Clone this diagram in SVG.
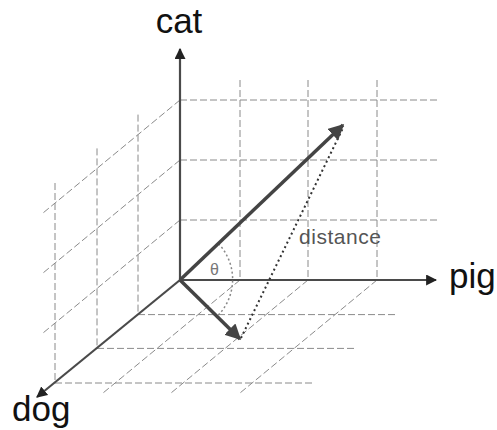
<svg xmlns="http://www.w3.org/2000/svg" width="497" height="430" viewBox="0 0 497 430">
<style>
.grid{stroke:#8a8a8a;stroke-width:1;stroke-dasharray:7,3;fill:none}
.axis{stroke:#4a4a4a;stroke-width:2.2;fill:none}
.vec{stroke:#444;stroke-width:3.5;fill:none}
.lbl{font-family:"Liberation Sans",Arial,sans-serif;fill:#111}
</style>
<defs>
<marker id="ah" viewBox="0 0 10 10" refX="9" refY="5" markerWidth="5" markerHeight="5" orient="auto" markerUnits="strokeWidth">
<path d="M0,0 L10,5 L0,10 z" fill="#222"/>
</marker>
<marker id="vh" viewBox="0 0 10 10" refX="9" refY="5" markerWidth="4.5" markerHeight="4.5" orient="auto" markerUnits="strokeWidth">
<path d="M0,0 L10,5 L0,10 z" fill="#444"/>
</marker>
</defs>
<rect width="497" height="430" fill="#fff"/>
<g id="grid">
<line class="grid" x1="180" y1="100" x2="439" y2="100"/>
<line class="grid" x1="180" y1="160" x2="439" y2="160"/>
<line class="grid" x1="180" y1="220" x2="439" y2="220"/>
<line class="grid" x1="240" y1="80" x2="240" y2="280"/>
<line class="grid" x1="308" y1="80" x2="308" y2="280"/>
<line class="grid" x1="377" y1="80" x2="377" y2="280"/>
<line class="grid" x1="180" y1="100" x2="43" y2="213"/>
<line class="grid" x1="180" y1="160" x2="43" y2="273"/>
<line class="grid" x1="180" y1="220" x2="43" y2="333"/>
<line class="grid" x1="138" y1="114.6" x2="138" y2="314.6"/>
<line class="grid" x1="97" y1="148.4" x2="97" y2="348.4"/>
<line class="grid" x1="55" y1="183" x2="55" y2="383"/>
<line class="grid" x1="138" y1="314.6" x2="397" y2="314.6"/>
<line class="grid" x1="97" y1="348.4" x2="356" y2="348.4"/>
<line class="grid" x1="55" y1="383" x2="314" y2="383"/>
<line class="grid" x1="240" y1="280" x2="103" y2="393"/>
<line class="grid" x1="308" y1="280" x2="171" y2="393"/>
<line class="grid" x1="377" y1="280" x2="240" y2="393"/>
</g>
<g id="axes">
<line class="axis" x1="180" y1="280" x2="180" y2="49" marker-end="url(#ah)"/>
<line class="axis" x1="180" y1="280" x2="436" y2="280" marker-end="url(#ah)"/>
<line class="axis" x1="180" y1="280" x2="37" y2="397" marker-end="url(#ah)"/>
</g>
<g id="connectors">
<path d="M218.5,243.7 A52,52 0 0 1 217.4,316.1" fill="none" stroke="#888" stroke-width="1.5" stroke-dasharray="2,2.5"/>
<line x1="241" y1="338" x2="343" y2="128" stroke="#333" stroke-width="2" stroke-dasharray="2,3"/>
<line class="vec" x1="180" y1="280" x2="343" y2="125" marker-end="url(#vh)"/>
<line class="vec" x1="180" y1="280" x2="240" y2="339" marker-end="url(#vh)"/>
</g>
<g id="labels">
<text class="lbl" x="179" y="33" font-size="35" text-anchor="middle">cat</text>
<text class="lbl" x="449" y="288" font-size="35">pig</text>
<text class="lbl" x="12" y="421" font-size="35">dog</text>
<text class="lbl" x="299" y="244" font-size="21" style="fill:#555" textLength="82">distance</text>
<text class="lbl" x="210" y="275" font-size="16" style="fill:#777">θ</text>
</g>
</svg>
